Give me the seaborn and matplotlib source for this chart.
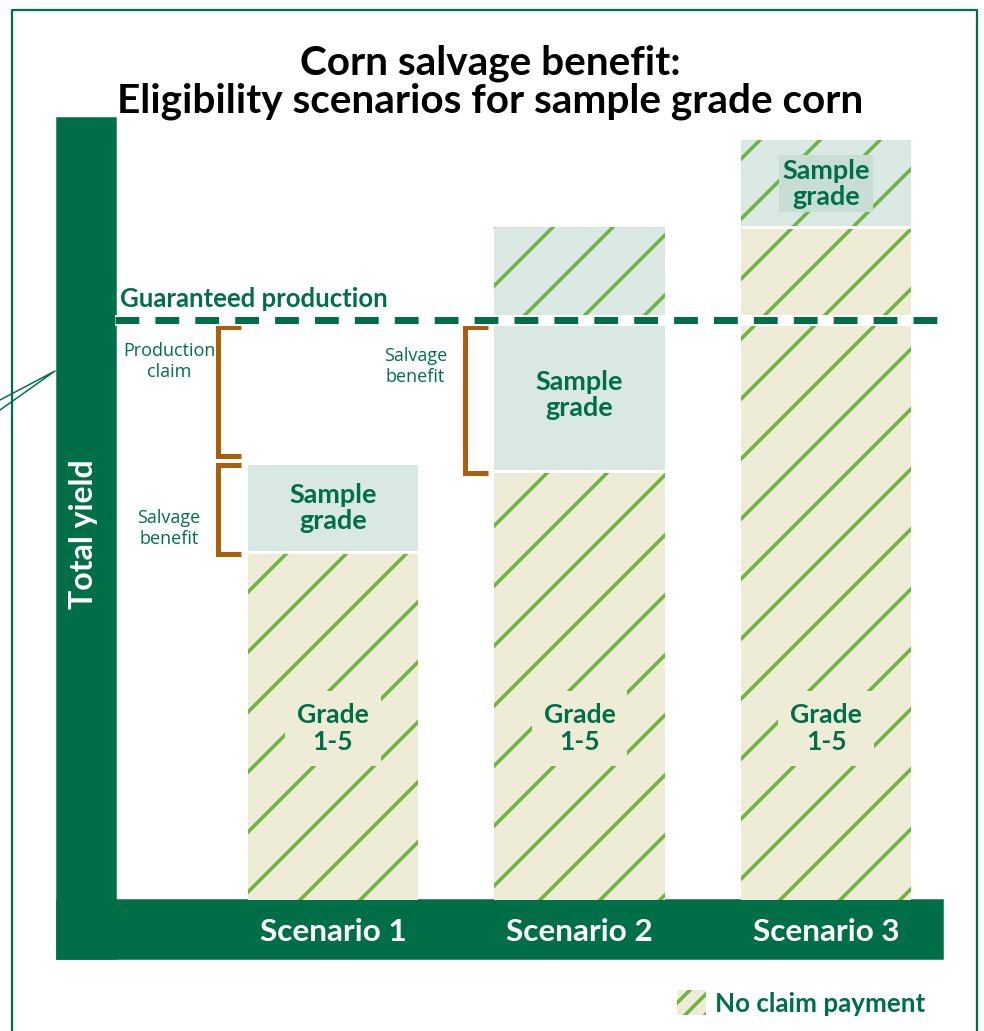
# Corn salvage benefit - eligibility scenarios for sample grade corn

import numpy as np
import pandas as pd
import matplotlib.pyplot as plt
import seaborn as sns
from matplotlib.patches import Rectangle, Patch
from matplotlib.lines import Line2D

# data (guaranteed production = 100)
scenarios = ["Scenario 1", "Scenario 2", "Scenario 3"]
grade_1_5 = [60, 74, 116]
sample_grade = [15, 42, 15]
guarantee = 100

GREEN = "#006F47"
HATCH = "#6DB33F"
BEIGE = "#EEEBD6"
MINT = "#D9E8E2"
MINT_DARK = "#C8DDD4"
BROWN = "#A8600F"

sns.set_theme(style="white")
plt.rcParams["font.family"] = ["Lato", "DejaVu Sans"]
plt.rcParams["hatch.linewidth"] = 1.4

DPI = 180
W, H = 984, 1031
fig = plt.figure(figsize=(W / DPI, H / DPI), dpi=DPI)


def fx(px):
    return px / W


def fy(py):
    return 1 - py / H


# green L-shaped axis blocks and outer frame
fig.patches.append(Rectangle((fx(57), fy(958)), fx(58), 840 / H,
                             transform=fig.transFigure, color=GREEN, zorder=-5))
fig.patches.append(Rectangle((fx(57), fy(958)), fx(885), 58 / H,
                             transform=fig.transFigure, color=GREEN, zorder=-5))
fig.lines.append(Line2D([fx(12), fx(12), fx(977), fx(977)],
                        [fy(1031), fy(10), fy(10), fy(1031)],
                        transform=fig.transFigure, color=GREEN, lw=0.9, zorder=-5))
fig.lines.append(Line2D([fx(0), fx(55), fx(0)], [fy(400), fy(371), fy(410)],
                        transform=fig.transFigure, color=GREEN, lw=0.6, zorder=-5))

ax = fig.add_axes([fx(115), fy(900), fx(827), 782 / H])
ax.set_facecolor("none")

df = pd.DataFrame({"scenario": scenarios, "grade": grade_1_5, "sample": sample_grade})
df["total"] = df["grade"] + df["sample"]
df["sample_below"] = (np.minimum(df["total"], guarantee) - df["grade"]).clip(lower=0)
df["sample_above"] = df["sample"] - df["sample_below"]

bw = 0.69
sns.barplot(data=df, x="scenario", y="grade", color=BEIGE, edgecolor=HATCH,
            hatch="/", linewidth=0, width=bw, saturation=1, ax=ax)
sns.barplot(data=df, x="scenario", y="sample_below", bottom=df["grade"], color=MINT,
            linewidth=0, width=bw, saturation=1, ax=ax)
sns.barplot(data=df, x="scenario", y="sample_above",
            bottom=df["grade"] + df["sample_below"], color=MINT, edgecolor=HATCH,
            hatch="/", linewidth=0, width=bw, saturation=1, ax=ax)

# white gaps between stacked segments
for i, row in df.iterrows():
    if row["sample"] > 0:
        ax.hlines(row["grade"], i - bw / 2, i + bw / 2, color="white", lw=1.2, zorder=3)

# guaranteed production line
ax.axhline(guarantee, color="white", lw=4.4, zorder=4)
ax.axhline(guarantee, color=GREEN, lw=2.8, dashes=(3.4, 2.3), dash_capstyle="butt", zorder=5)
ax.text(-0.865, guarantee + 1.5, "Guaranteed production", color=GREEN, fontsize=10.3,
        fontweight="bold", ha="left", va="bottom")


def bracket(x, lo, hi, label, label_y):
    xv, xt = x - 0.465, x - 0.372
    ax.plot([xt, xv, xv, xt], [hi, hi, lo, lo], color=BROWN, lw=2.0,
            solid_joinstyle="miter", solid_capstyle="butt", zorder=3)
    ax.text(xv - 0.2, label_y, label, color=GREEN, fontsize=7.2, ha="center",
            va="center", linespacing=1.2, family=["Open Sans", "DejaVu Sans"])


# production claim (scenario 1), salvage benefits (scenarios 1 and 2)
bracket(0, df["total"][0] + 1.5, guarantee - 1.3, "Production\nclaim", guarantee - 7.2)
bracket(0, df["grade"][0] - 0.4, df["total"][0], "Salvage\nbenefit", df["total"][0] - 11)
bracket(1, df["grade"][1] - 0.4, guarantee - 1.3, "Salvage\nbenefit", guarantee - 8)

# segment labels
for i, row in df.iterrows():
    ax.text(i, 29.5, "Grade\n1-5", color=GREEN, fontsize=10.6, fontweight="bold",
            ha="center", va="center", linespacing=1.15,
            bbox=dict(boxstyle="square,pad=0.45", fc=BEIGE, ec="none"), zorder=6)
    if row["sample_below"] == 0:
        ax.text(i, row["grade"] + row["sample"] / 2, "Sample\ngrade", color=GREEN,
                fontsize=10.8, fontweight="bold", ha="center", va="center",
                linespacing=1.1,
                bbox=dict(boxstyle="square,pad=0.12", fc=MINT_DARK, ec="none"), zorder=6)
    else:
        ax.text(i, row["grade"] + row["sample_below"] / 2, "Sample\ngrade", color=GREEN,
                fontsize=10.8, fontweight="bold", ha="center", va="center",
                linespacing=1.1, zorder=6)

ax.set_xlim(-0.884, 2.47)
ax.set_ylim(0, 134.8)
ax.set_yticks([])
ax.set_xlabel("")
ax.set_ylabel("Total yield", color="white", fontsize=12.8, fontweight="bold")
ax.yaxis.set_label_coords(-0.021, 0.468)
ax.tick_params(axis="x", length=0, pad=7.2, labelcolor="white", labelsize=12.6)
for lab in ax.get_xticklabels():
    lab.set_fontweight("bold")
sns.despine(ax=ax, left=True, bottom=True)

fig.text(0.498, fy(82), "Corn salvage benefit:\nEligibility scenarios for sample grade corn",
         ha="center", va="center", fontsize=16.2, fontweight="bold", color="black",
         linespacing=1.0)

leg_handle = Patch(facecolor=BEIGE, edgecolor=HATCH, hatch="///", linewidth=0)
fig.legend([leg_handle], ["No claim payment"], loc="center left",
           bbox_to_anchor=(fx(654), fy(1003)), frameon=False, handlelength=1.1,
           handleheight=1.1, handletextpad=0.35,
           prop={"weight": "bold", "size": 10.4}, labelcolor=GREEN)

fig.savefig("out.png", dpi=DPI)
